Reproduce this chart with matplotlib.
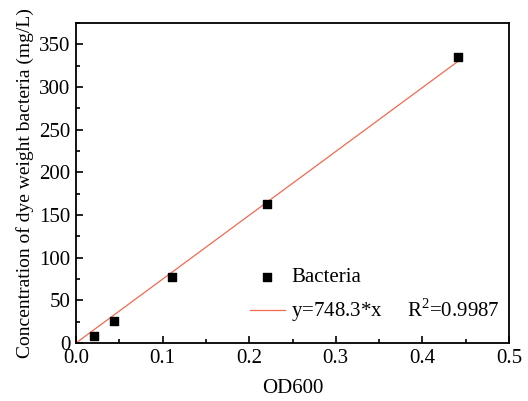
import matplotlib.pyplot as plt
import numpy as np
from matplotlib.ticker import MultipleLocator

od600 = [0.021, 0.044, 0.111, 0.22, 0.441]
conc = [8, 26, 77, 163, 335]
slope = 748.3
fit_x = [0.0, 0.44]

plt.rcParams['font.family'] = ['Liberation Serif', 'DejaVu Serif']
plt.rcParams['mathtext.fontset'] = 'custom'
plt.rcParams['mathtext.rm'] = 'Liberation Serif'
plt.rcParams['font.size'] = 15

fig = plt.figure(figsize=(5.28, 4.01), dpi=100)
ax = fig.add_axes([76 / 528, 58 / 401, 433 / 528, 320 / 401])

ax.scatter(od600, conc, marker='s', s=36, color='black', label='Bacteria', zorder=3)
ax.plot(fit_x, [slope * v for v in fit_x], color='#f26a50', lw=0.9,
        label='y=748.3*x     R$^2$=0.9987')

ax.set_xlim(0, 0.5)
ax.set_ylim(0, 375)
ax.xaxis.set_major_locator(MultipleLocator(0.1))
ax.xaxis.set_minor_locator(MultipleLocator(0.05))
ax.yaxis.set_major_locator(MultipleLocator(50))
ax.yaxis.set_minor_locator(MultipleLocator(25))
ax.xaxis.set_major_formatter(plt.FuncFormatter(lambda v, p: f'{v:.1f}'))
ax.tick_params(which='both', direction='in', top=False, right=False)
ax.tick_params(which='major', length=5, width=1.2, pad=4)
ax.tick_params(which='minor', length=3, width=1.2)
for s in ax.spines.values():
    s.set_linewidth(1.3)

ax.set_xlabel('OD600', fontsize=15, labelpad=8)
ax.set_ylabel('Concentration of dye weight bacteria (mg/L)', fontsize=14, labelpad=4)

ax.legend(loc='lower left', bbox_to_anchor=(0.358, 0.0), frameon=False,
          handlelength=1.7, handletextpad=0.3, labelspacing=0.45, fontsize=15)

fig.savefig('out.png', dpi=100)
